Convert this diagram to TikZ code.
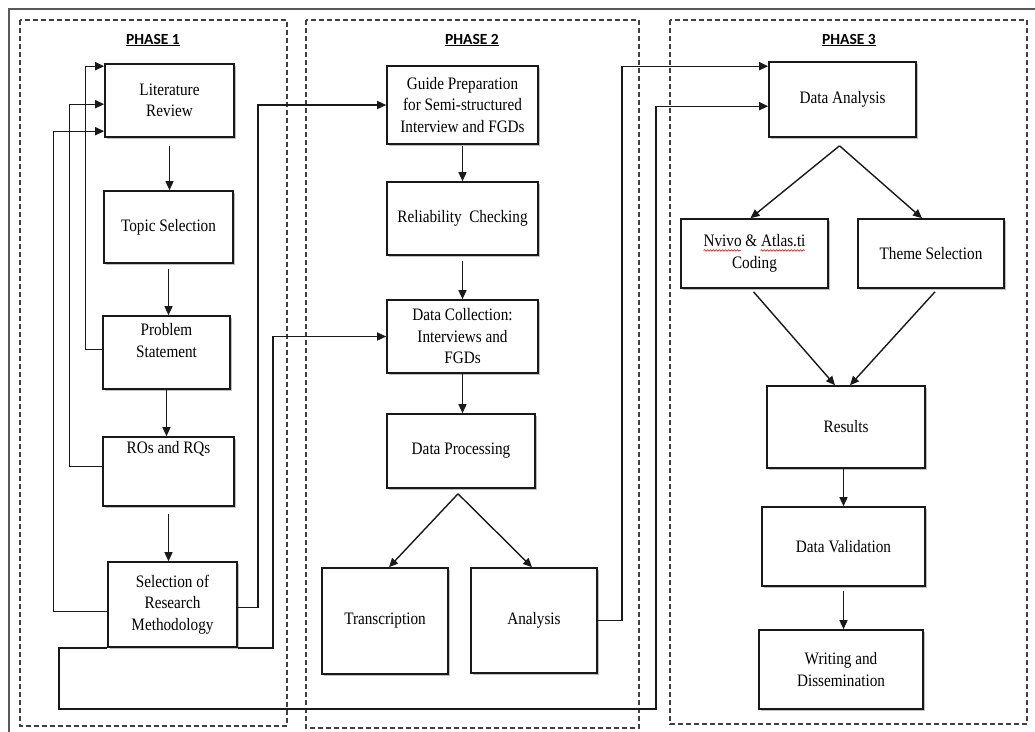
\documentclass[tikz,border=0pt]{standalone}
\usepackage{fontspec}
\setmainfont{Liberation Serif}[FakeStretch=0.87]
\newfontfamily\phasefont{Carlito}
\usetikzlibrary{arrows.meta,calc,shadows,decorations.pathmorphing}
\newcommand\bodyfont{\fontsize{17.5}{21.5}\selectfont}
\tikzset{
  box/.style={draw=black!90, line width=1.6pt, fill=white, align=center, inner sep=2pt,
    font=\bodyfont, drop shadow={shadow xshift=1.8pt, shadow yshift=-1.8pt, opacity=0.25, fill=black}},
  arr/.style={-{Triangle[length=9pt,width=8pt]}, line width=1.4pt, draw=black!90},
  phaseframe/.style={draw=black!75, line width=1.2pt, dash pattern=on 5pt off 3pt},
  phasetitle/.style={font=\phasefont\bfseries\fontsize{15.5}{18}\selectfont, inner sep=0pt},
  spell/.style={draw=red!85!black, line width=0.6pt, decorate, decoration={snake, amplitude=0.8pt, segment length=3pt}}
}
\begin{document}
\begin{tikzpicture}[x=1pt,y=-1pt]
\useasboundingbox (0,0) rectangle (1035,731);
% outer frame
\draw[draw=black!65, line width=1.6pt] (9,745) -- (9,9) -- (1045,9);
% phase frames
\draw[phaseframe] (20,20) rectangle (287,726);
\draw[phaseframe] (306,20) rectangle (639,728);
\draw[phaseframe] (670,20) rectangle (1027,724);
% titles
\node[phasetitle] (t1) at (153,40) {\underline{PHASE 1}};
\node[phasetitle] (t2) at (472,40) {\underline{PHASE 2}};
\node[phasetitle] (t3) at (849,40) {\underline{PHASE 3}};

% phase 1 boxes
\node[box, minimum width=129pt, minimum height=73pt] (lit) at (169.5,100.5) {Literature\\Review};
\node[box, minimum width=129pt, minimum height=72pt] (topic) at (168.5,227) {Topic Selection};
\node[box, minimum width=127pt, minimum height=73pt, text depth=24pt] (prob) at (166.5,352.5) {Problem\\Statement};
\node[box, minimum width=131pt, minimum height=69pt, text depth=48pt] (ros) at (168.5,471.5) {ROs and RQs};
\node[box, minimum width=129pt, minimum height=85pt] (sel) at (172.5,604.5) {Selection of\\Research\\Methodology};

% phase 2 boxes
\node[box, minimum width=151pt, minimum height=78pt] (guide) at (462.5,105) {Guide Preparation\\for Semi-structured\\Interview and FGDs};
\node[box, minimum width=151pt, minimum height=73pt] (rel) at (462.5,218.5) {Reliability~ Checking};
\node[box, minimum width=151pt, minimum height=73pt] (dc) at (462.5,336.5) {Data Collection:\\Interviews and\\FGDs};
\node[box, minimum width=148pt, minimum height=74pt] (dp) at (461,451) {Data Processing};
\node[box, minimum width=126pt, minimum height=106pt] (tr) at (385,621) {Transcription};
\node[box, minimum width=126pt, minimum height=105pt] (an) at (534,620.5) {Analysis};

% phase 3 boxes
\node[box, minimum width=147pt, minimum height=75pt] (da) at (842.5,99.5) {Data Analysis};
\node[box, minimum width=147pt, minimum height=69pt] (nv) at (754.5,253.5) {Nvivo \& Atlas.ti\\Coding};
\node[box, minimum width=146pt, minimum height=69pt] (th) at (931,253.5) {Theme Selection};
\node[box, minimum width=158pt, minimum height=82pt] (res) at (846,427) {Results};
\node[box, minimum width=163pt, minimum height=79pt] (dv) at (843.5,546.5) {Data Validation};
\node[box, minimum width=164pt, minimum height=79pt] (wd) at (841,669.5) {Writing and\\Dissemination};

% spell-check underlines
\draw[spell] ($(nv.center)+(-51,-3)$) -- ++(37,0);
\draw[spell] ($(nv.center)+(6,-3)$) -- ++(44,0);

% phase 1 chain
\draw[arr, shorten <=8pt] (lit.south) -- (lit.south |- topic.north);
\draw[arr, shorten <=5pt] (topic.south) -- (topic.south |- prob.north);
\draw[arr] (prob.south) -- (prob.south |- ros.north);
\draw[arr, shorten <=7pt] (ros.south) -- (ros.south |- sel.north);

% feedback loops to Literature Review
\draw[arr] ($(prob.north west)+(0,34)$) -- ++(-17,0) |- ($(lit.north west)+(0,3)$);
\draw[arr] ($(ros.north west)+(0,30)$) -- ++(-33,0) |- ($(lit.north west)+(0,41)$);
\draw[arr] ($(sel.north west)+(0,50)$) -- ++(-54,0) |- ($(lit.north west)+(0,68)$);

% methodology to phase 2
\draw[arr] ($(sel.north east)+(0,46)$) -- ++(20,0) |- (guide.west);
\draw[arr] (sel.south east) -- ++(35,0) |- (dc.west);

% methodology to data analysis (bottom loop)
\coordinate (loopa) at (59,709);
\coordinate (loopb) at (656,709);
\draw[arr] (sel.south west) -| (loopa) -- (loopb) |- ($(da.north west)+(0,45)$);

% analysis to data analysis
\draw[arr] (an.east) -- ++(24,0) |- ($(da.north west)+(0,5)$);

% phase 2 chain
\draw[arr, shorten <=1pt] (guide.south) -- (guide.south |- rel.north);
\draw[arr, shorten <=5pt] (rel.south) -- (rel.south |- dc.north);
\draw[arr] (dc.south) -- (dc.south |- dp.north);
\coordinate (dpsplit) at ($(dp.south)+(-3,5)$);
\draw[arr] (dpsplit) -- ($(tr.north)+(4,0)$);
\draw[arr] (dpsplit) -- ($(an.north)+(-2,0)$);

% phase 3 chain
\coordinate (dasplit) at ($(da.south)+(-3,8)$);
\draw[arr] (dasplit) -- ($(nv.north)+(-4,0)$);
\draw[arr] (dasplit) -- ($(th.north)+(-9,0)$);
\draw[arr] ($(nv.south)+(-1,3)$) -- ($(res.north)+(-11,0)$);
\draw[arr] ($(th.south)+(4,3)$) -- ($(res.north)+(4,0)$);
\draw[arr] (res.south -| dv.north) -- (dv.north);
\draw[arr, shorten <=4pt] (dv.south) -- (dv.south |- wd.north);
\end{tikzpicture}
\end{document}
